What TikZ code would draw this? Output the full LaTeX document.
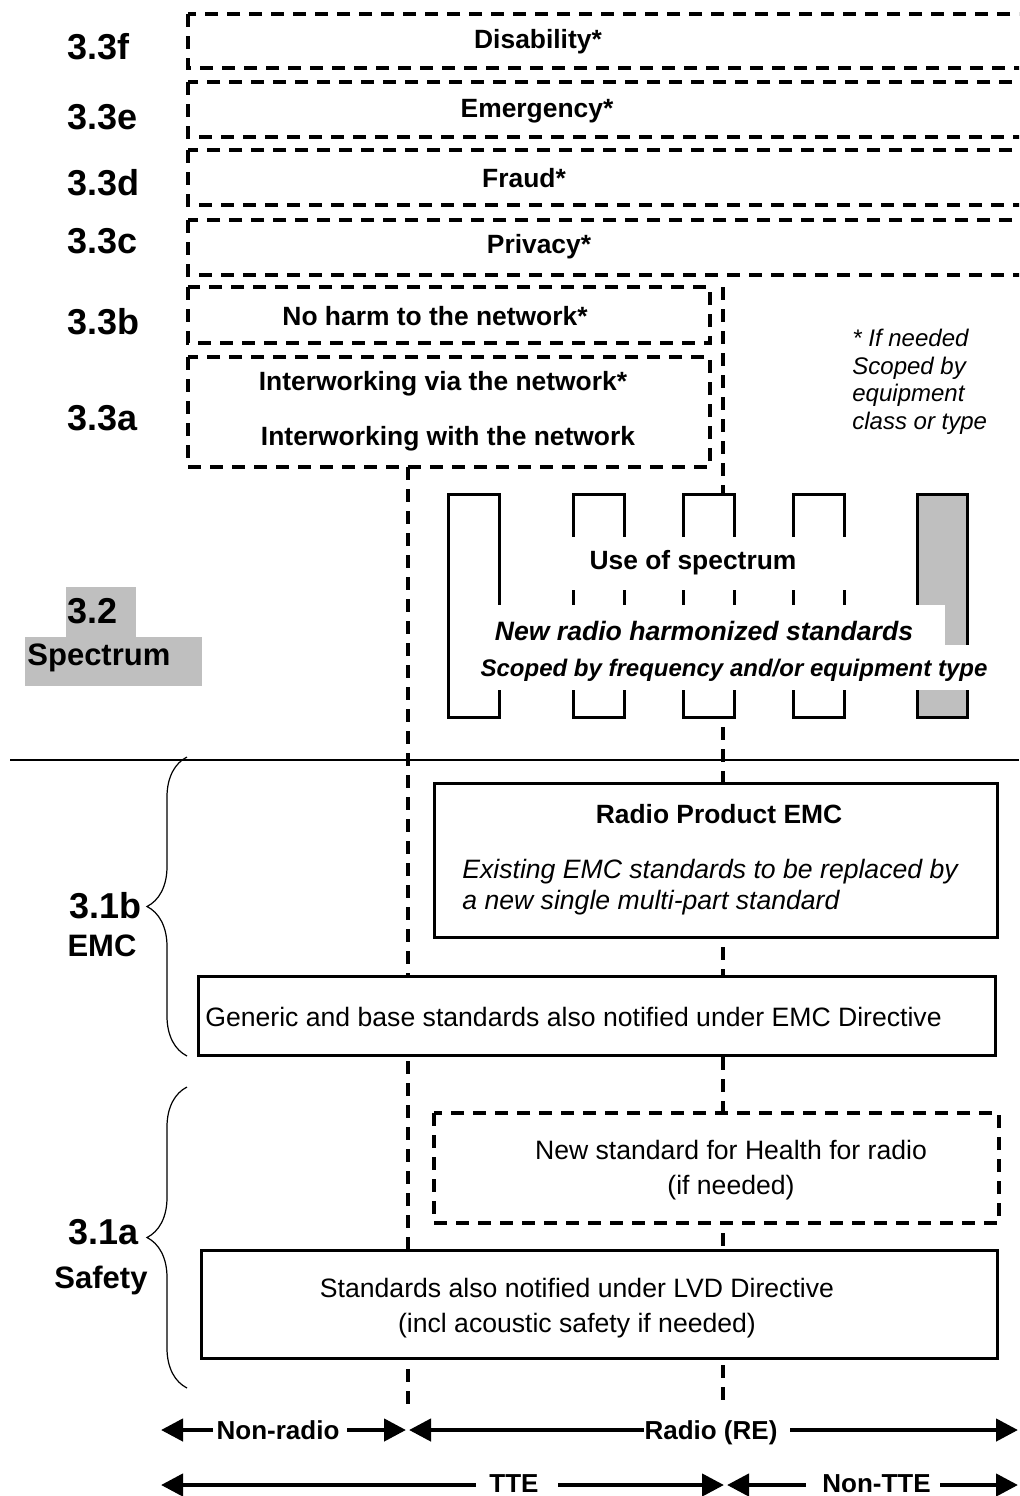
\documentclass[tikz,border=0pt]{standalone}
\usepackage{fontspec}
\setmainfont{Liberation Sans}
\usetikzlibrary{arrows.meta,decorations.pathreplacing}

\begin{document}
\begin{tikzpicture}[x=0.5pt, y=-0.5pt,
	dashbox/.style={line width=2pt, dash pattern=on 6.5pt off 4.5pt},
	solidbox/.style={line width=1.5pt},
	biglabel/.style={font=\fontsize{18pt}{20pt}\selectfont\bfseries, inner sep=0pt},
	midlabel/.style={font=\fontsize{15.5pt}{18pt}\selectfont\bfseries, inner sep=0pt},
	boldtext/.style={font=\fontsize{13.2pt}{16pt}\selectfont\bfseries, inner sep=0pt},
	plaintext/.style={font=\fontsize{13.3pt}{17.2pt}\selectfont, inner sep=0pt},
	notetext/.style={font=\fontsize{12pt}{13.75pt}\selectfont\itshape, inner sep=0pt, align=left},
	dimarrow/.style={line width=2.2pt, {Triangle[length=11pt,width=11pt]}-{Triangle[length=11pt,width=11pt]}},
	dimlabel/.style={font=\fontsize{13pt}{16pt}\selectfont\bfseries, fill=white, inner xsep=0pt, inner ysep=0pt, anchor=base}]
	\useasboundingbox (0,0) rectangle (1019,1496);
	\clip (0,0) rectangle (1019,1496);
	% 竖直虚线
	\coordinate (nr top) at (408,467);
	\coordinate (nr bot) at (408,1405);
	\coordinate (tte top) at (723,287);
	\coordinate (tte bot) at (723,1405);
	\draw [dashbox] (nr top) -- (nr bot);
	\draw [dashbox] (tte top) -- (tte bot);
	% 3.3 各项
	\draw [dashbox] (188,14) rectangle (1040,68);
	\draw [dashbox] (188,82) rectangle (1040,137);
	\draw [dashbox] (188,150) rectangle (1040,205);
	\draw [dashbox] (188,220) rectangle (1040,275);
	\draw [dashbox, fill=white] (188,287) rectangle (710,343);
	\draw [dashbox, fill=white] (188,357) rectangle (710,467);
	\node [boldtext] (disab) at (538,42) {Disability*};
	\node [boldtext] (emerg) at (537,111) {Emergency*};
	\node [boldtext] (fraud) at (524,178) {Fraud*};
	\node [boldtext] (priv) at (539,247) {Privacy*};
	\node [boldtext] (noharm) at (435,316) {No harm to the network*};
	\node [boldtext] (iwvia) at (443,384) {Interworking via the network*};
	\node [boldtext] (iwwith) at (448,439) {Interworking with the network};
	\node [biglabel, anchor=west] (l33f) at (67,47) {3.3f};
	\node [biglabel, anchor=west] (l33e) at (67,117) {3.3e};
	\node [biglabel, anchor=west] (l33d) at (67,183) {3.3d};
	\node [biglabel, anchor=west] (l33c) at (67,241) {3.3c};
	\node [biglabel, anchor=west] (l33b) at (67,322) {3.3b};
	\node [biglabel, anchor=west] (l33a) at (67,418) {3.3a};
	\node [notetext, anchor=west] (note) at (852,382) {* If needed\\Scoped by\\equipment\\class or type};
	% 频谱
	\fill [gray!50] (66,587) rectangle (136,637);
	\fill [gray!50] (25,637) rectangle (202,686);
	\node [biglabel, anchor=west] (l32) at (67,611) {3.2};
	\node [midlabel, anchor=west] (spec) at (27,658) {Spectrum};
	\foreach \cx in {448,573,683,793}
		\draw [solidbox, fill=white] (\cx,494) rectangle ++(51,223);
	\draw [solidbox, fill=gray!50] (917,494) rectangle ++(50,223);
	\fill [white] (560,537) rectangle (848,590);
	\fill [white] (458,605) rectangle (945,645);
	\fill [white] (458,645) rectangle (993,690);
	\node [font=\fontsize{13.2pt}{16pt}\selectfont\bfseries, inner sep=0pt] (usespec) at (693,563) {Use of spectrum};
	\node [font=\fontsize{13.3pt}{16pt}\selectfont\bfseries\itshape, inner sep=0pt] (newradio) at (704,631) {New radio harmonized standards};
	\node [font=\fontsize{12pt}{14pt}\selectfont\bfseries\itshape, inner sep=0pt] (scoped) at (734,670) {Scoped by frequency and/or equipment type};
	% 分隔线
	\draw [line width=0.8pt] (10,760) -- (1019,760);
	% 3.1b EMC
	\draw [line width=0.6pt, decorate, decoration={brace, amplitude=20pt}] (187,1056) -- (187,757);
	\node [biglabel, anchor=east] (l31b) at (142,906) {3.1b};
	\node [midlabel] (emc) at (102,946) {EMC};
	\draw [solidbox, fill=white] (434,783) rectangle (997,937);
	\node [boldtext] (rpemc) at (719,814) {Radio Product EMC};
	\node [plaintext, font=\fontsize{13.3pt}{15.5pt}\selectfont\itshape, anchor=west, align=left] (existing) at (462,887) {Existing EMC standards to be replaced by\\a new single multi-part standard};
	\draw [solidbox, fill=white] (198,976) rectangle (995,1055);
	\node [plaintext, anchor=west] (generic) at (205,1017) {Generic and base standards also notified under EMC Directive};
	% 3.1a Safety
	\draw [line width=0.6pt, decorate, decoration={brace, amplitude=20pt}] (187,1388) -- (187,1087);
	\node [biglabel, anchor=east] (l31a) at (139,1232) {3.1a};
	\node [midlabel] (safety) at (101,1280) {Safety};
	\draw [dashbox, fill=white] (434,1113) rectangle (999,1223);
	\node [plaintext, align=center] (health) at (731,1170) {New standard for Health for radio\\(if needed)};
	\draw [solidbox, fill=white] (201,1250) rectangle (997,1358);
	\node [plaintext, align=center] (lvd) at (577,1308) {Standards also notified under LVD Directive\\(incl acoustic safety if needed)};
	% 底部范围箭头
	\coordinate (nr l) at (161,1430);
	\coordinate (nr r) at (406,1430);
	\coordinate (re l) at (409,1430);
	\coordinate (re r) at (1018,1430);
	\coordinate (tte l) at (161,1485);
	\coordinate (tte r) at (724,1485);
	\coordinate (ntte l) at (727,1485);
	\coordinate (ntte r) at (1018,1485);
	\draw [dimarrow] (nr l) -- (nr r);
	\draw [dimarrow] (re l) -- (re r);
	\draw [dimarrow] (tte l) -- (tte r);
	\draw [dimarrow] (ntte l) -- (ntte r);
	\node [dimlabel] (nonradio) at (280,1439) {\kern2pt Non-radio\kern4pt};
	\node [dimlabel] (radio) at (717,1439) {\kern0.5pt Radio (RE)\kern6.5pt};
	\node [dimlabel] (tte) at (517,1492) {\kern6.5pt TTE\kern9.5pt};
	\node [dimlabel] (nontte) at (873,1492) {\kern8pt Non-TTE\kern4.5pt};
\end{tikzpicture}
\end{document}
